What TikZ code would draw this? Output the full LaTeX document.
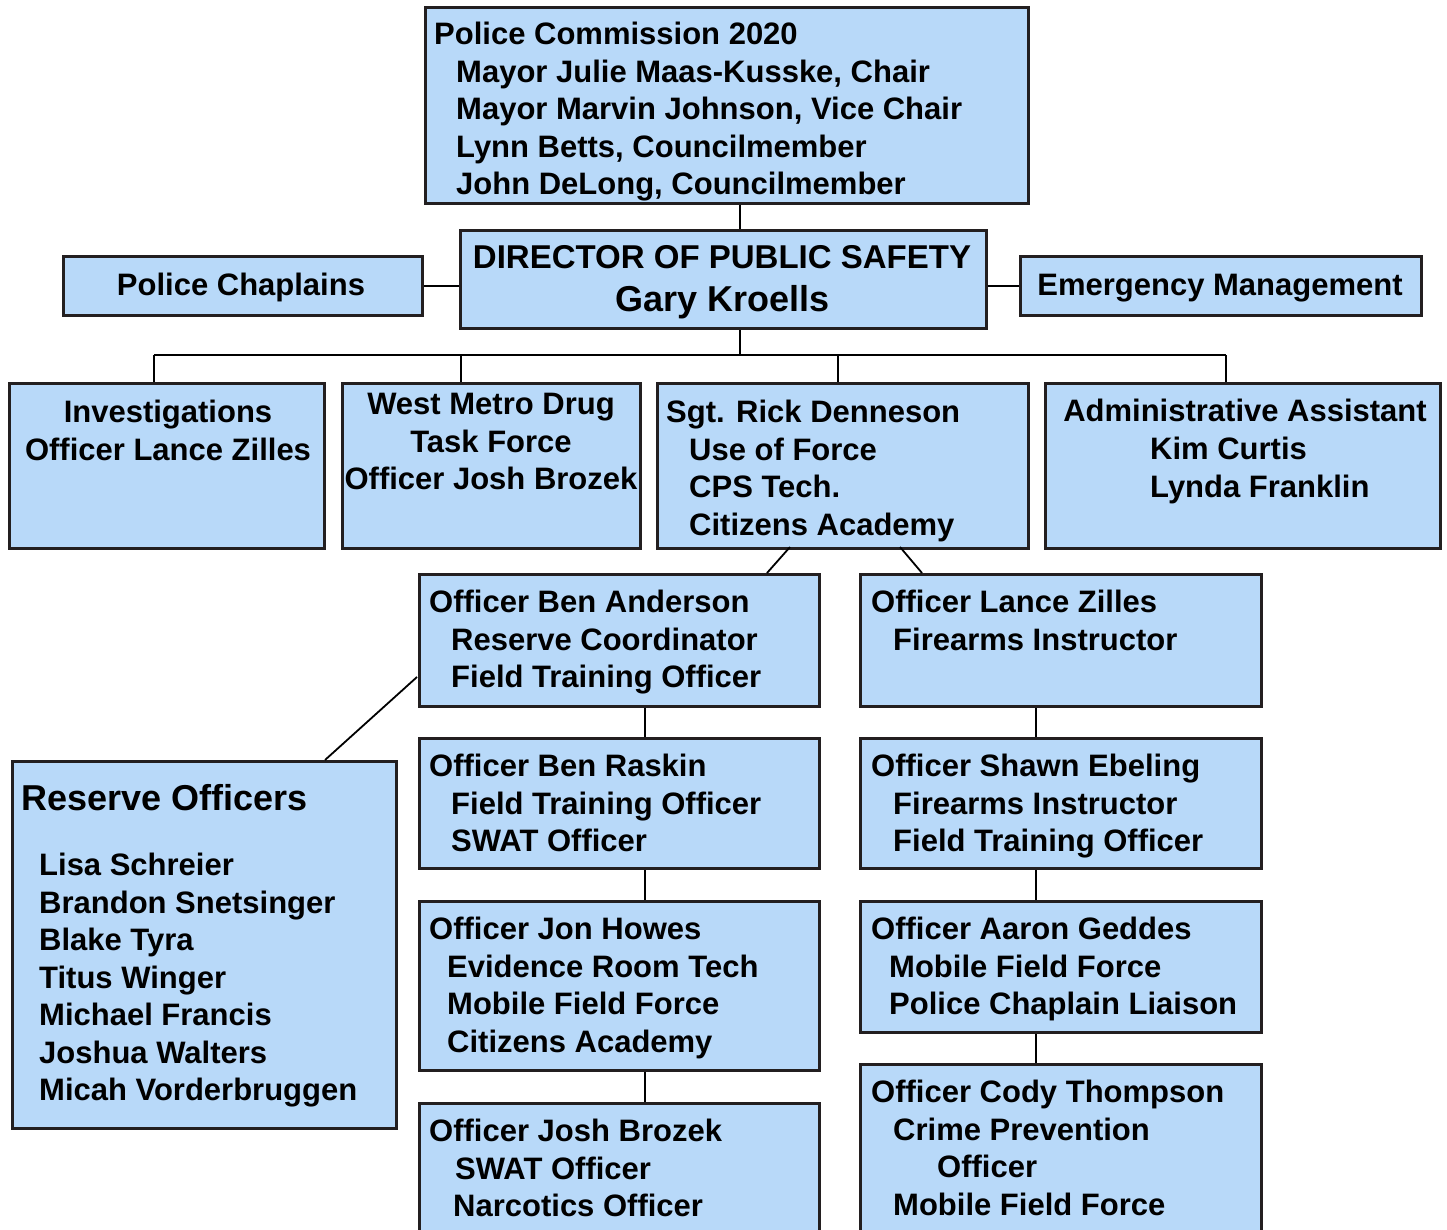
\documentclass[tikz,border=0pt]{standalone}
\usepackage{fontspec}
\setmainfont{Liberation Sans}
\definecolor{boxfill}{HTML}{B8D9F9}
\definecolor{boxline}{HTML}{231F20}
\tikzset{
  orgbox/.style={draw=boxline, fill=boxfill, line width=3pt, inner sep=0pt, anchor=north west},
  txt/.style={font=\bfseries\fontsize{31}{37.5}\selectfont, inner sep=0pt, anchor=north west,
    yshift=22pt, execute at begin node={\rule{0pt}{26pt}}, align=left},
  ctxt/.style={txt, anchor=north, align=center},
  head/.style={inner sep=0pt, anchor=base, yshift=0pt},
  wire/.style={line width=1.8pt, black}
}
\newcommand{\ind}[1]{\hspace*{#1pt}}

\begin{document}
\begin{tikzpicture}[x=1pt, y=-1pt]
\useasboundingbox (0,0) rectangle (1447,1230);
\clip (0,0) rectangle (1447,1230);

% boxes
\node[orgbox, minimum width=603, minimum height=196] (top) at (424,6) {};
\node[orgbox, minimum width=526, minimum height=98] (dir) at (459,229) {};
\node[orgbox, minimum width=359, minimum height=59] (chap) at (62,255) {};
\node[orgbox, minimum width=401, minimum height=59] (em) at (1019,255) {};
\node[orgbox, minimum width=315, minimum height=165] (inv) at (8,382) {};
\node[orgbox, minimum width=298, minimum height=165] (wm) at (341,382) {};
\node[orgbox, minimum width=371, minimum height=165] (sgt) at (656,382) {};
\node[orgbox, minimum width=395, minimum height=165] (adm) at (1044,382) {};
\node[orgbox, minimum width=400, minimum height=132] (ba) at (418,573) {};
\node[orgbox, minimum width=400, minimum height=130] (br) at (418,737) {};
\node[orgbox, minimum width=400, minimum height=169] (jh) at (418,900) {};
\node[orgbox, minimum width=400, minimum height=140] (jb) at (418,1102) {};
\node[orgbox, minimum width=401, minimum height=132] (lz) at (859,573) {};
\node[orgbox, minimum width=401, minimum height=130] (se) at (859,737) {};
\node[orgbox, minimum width=401, minimum height=131] (ag) at (859,900) {};
\node[orgbox, minimum width=401, minimum height=180] (ct) at (859,1063) {};
\node[orgbox, minimum width=384, minimum height=367] (res) at (11,760) {};

% texts (placed at the baseline of their first line)
\node[txt] (top-t) at (434,44) {Police Commission 2020\\
  \ind{22}Mayor Julie Maas-Kusske, Chair\\
  \ind{22}Mayor Marvin Johnson, Vice Chair\\
  \ind{22}Lynn Betts, Councilmember\\
  \ind{22}John DeLong, Councilmember};
\node[head, font=\bfseries\fontsize{33}{40}\selectfont] (dir-t1) at (722,269) {DIRECTOR OF PUBLIC SAFETY};
\node[head, font=\bfseries\fontsize{36}{43}\selectfont] (dir-t2) at (723,312) {Gary Kroells};
\node[ctxt] (chap-t) at (241,291) {Police Chaplains};
\node[ctxt] (em-t) at (1220,291) {Emergency Management};
\node[ctxt] (inv-t) at (168,422) {Investigations\\Officer Lance Zilles};
\node[ctxt] (wm-t) at (491,415) {West Metro Drug\\Task Force\\Officer Josh Brozek};
\node[txt] (sgt-t) at (666,422) {Sgt. Rick Denneson\\
  \ind{23}Use of Force\\
  \ind{23}CPS Tech.\\
  \ind{23}Citizens Academy};
\node[ctxt] (adm-t1) at (1245,417) {Administrative Assistant};
\node[txt] (adm-t2) at (1150,459) {Kim Curtis\\Lynda Franklin};
\node[txt] (ba-t) at (429,612) {Officer Ben Anderson\\
  \ind{22}Reserve Coordinator\\
  \ind{22}Field Training Officer};
\node[txt] (br-t) at (429,776) {Officer Ben Raskin\\
  \ind{22}Field Training Officer\\
  \ind{22}SWAT Officer};
\node[txt] (jh-t) at (429,939) {Officer Jon Howes\\
  \ind{18}Evidence Room Tech\\
  \ind{18}Mobile Field Force\\
  \ind{18}Citizens Academy};
\node[txt] (jb-t) at (429,1141) {Officer Josh Brozek\\
  \ind{26}SWAT Officer\\
  \ind{24}Narcotics Officer};
\node[txt] (lz-t) at (871,612) {Officer Lance Zilles\\
  \ind{22}Firearms Instructor};
\node[txt] (se-t) at (871,776) {Officer Shawn Ebeling\\
  \ind{22}Firearms Instructor\\
  \ind{22}Field Training Officer};
\node[txt] (ag-t) at (871,939) {Officer Aaron Geddes\\
  \ind{18}Mobile Field Force\\
  \ind{18}Police Chaplain Liaison};
\node[txt] (ct-t) at (871,1102) {Officer Cody Thompson\\
  \ind{22}Crime Prevention\\
  \ind{66}Officer\\
  \ind{22}Mobile Field Force};
\node[head, anchor=base west, font=\bfseries\fontsize{36}{43}\selectfont] (res-t1) at (21,810) {Reserve Officers};
\node[txt] (res-t2) at (39,875) {Lisa Schreier\\
  Brandon Snetsinger\\
  Blake Tyra\\
  Titus Winger\\
  Michael Francis\\
  Joshua Walters\\
  Micah Vorderbruggen};

% connectors
\coordinate (hub) at (740,355);
\coordinate (bus-inv) at (154,355);
\coordinate (bus-wm) at (461,355);
\coordinate (bus-sgt) at (838,355);
\coordinate (bus-adm) at (1226,355);
\coordinate (lcol) at (645,0);
\coordinate (rcol) at (1036,0);
\draw[wire] (top.south -| hub) -- (dir.north -| hub);
\draw[wire] (chap.east) -- (chap.east -| dir.west);
\draw[wire] (em.west) -- (em.west -| dir.east);
\draw[wire] (dir.south -| hub) -- (hub);
\draw[wire] (bus-inv) -- (bus-adm);
\draw[wire] (bus-inv) -- (bus-inv |- inv.north);
\draw[wire] (bus-wm) -- (bus-wm |- wm.north);
\draw[wire] (bus-sgt) -- (bus-sgt |- sgt.north);
\draw[wire] (bus-adm) -- (bus-adm |- adm.north);
\coordinate (sgt-l) at (790,547);
\coordinate (sgt-r) at (900,547);
\coordinate (ba-l) at (767,0);
\coordinate (lz-r) at (922,0);
\coordinate (res-r) at (325,0);
\draw[wire] (sgt-l) -- (ba.north -| ba-l);
\draw[wire] (sgt-r) -- (lz.north -| lz-r);
\coordinate (ba-w) at (417,677);
\draw[wire] (ba-w) -- (res.north -| res-r);
\draw[wire] (ba.south -| lcol) -- (br.north -| lcol);
\draw[wire] (br.south -| lcol) -- (jh.north -| lcol);
\draw[wire] (jh.south -| lcol) -- (jb.north -| lcol);
\draw[wire] (lz.south -| rcol) -- (se.north -| rcol);
\draw[wire] (se.south -| rcol) -- (ag.north -| rcol);
\draw[wire] (ag.south -| rcol) -- (ct.north -| rcol);
\end{tikzpicture}
\end{document}
